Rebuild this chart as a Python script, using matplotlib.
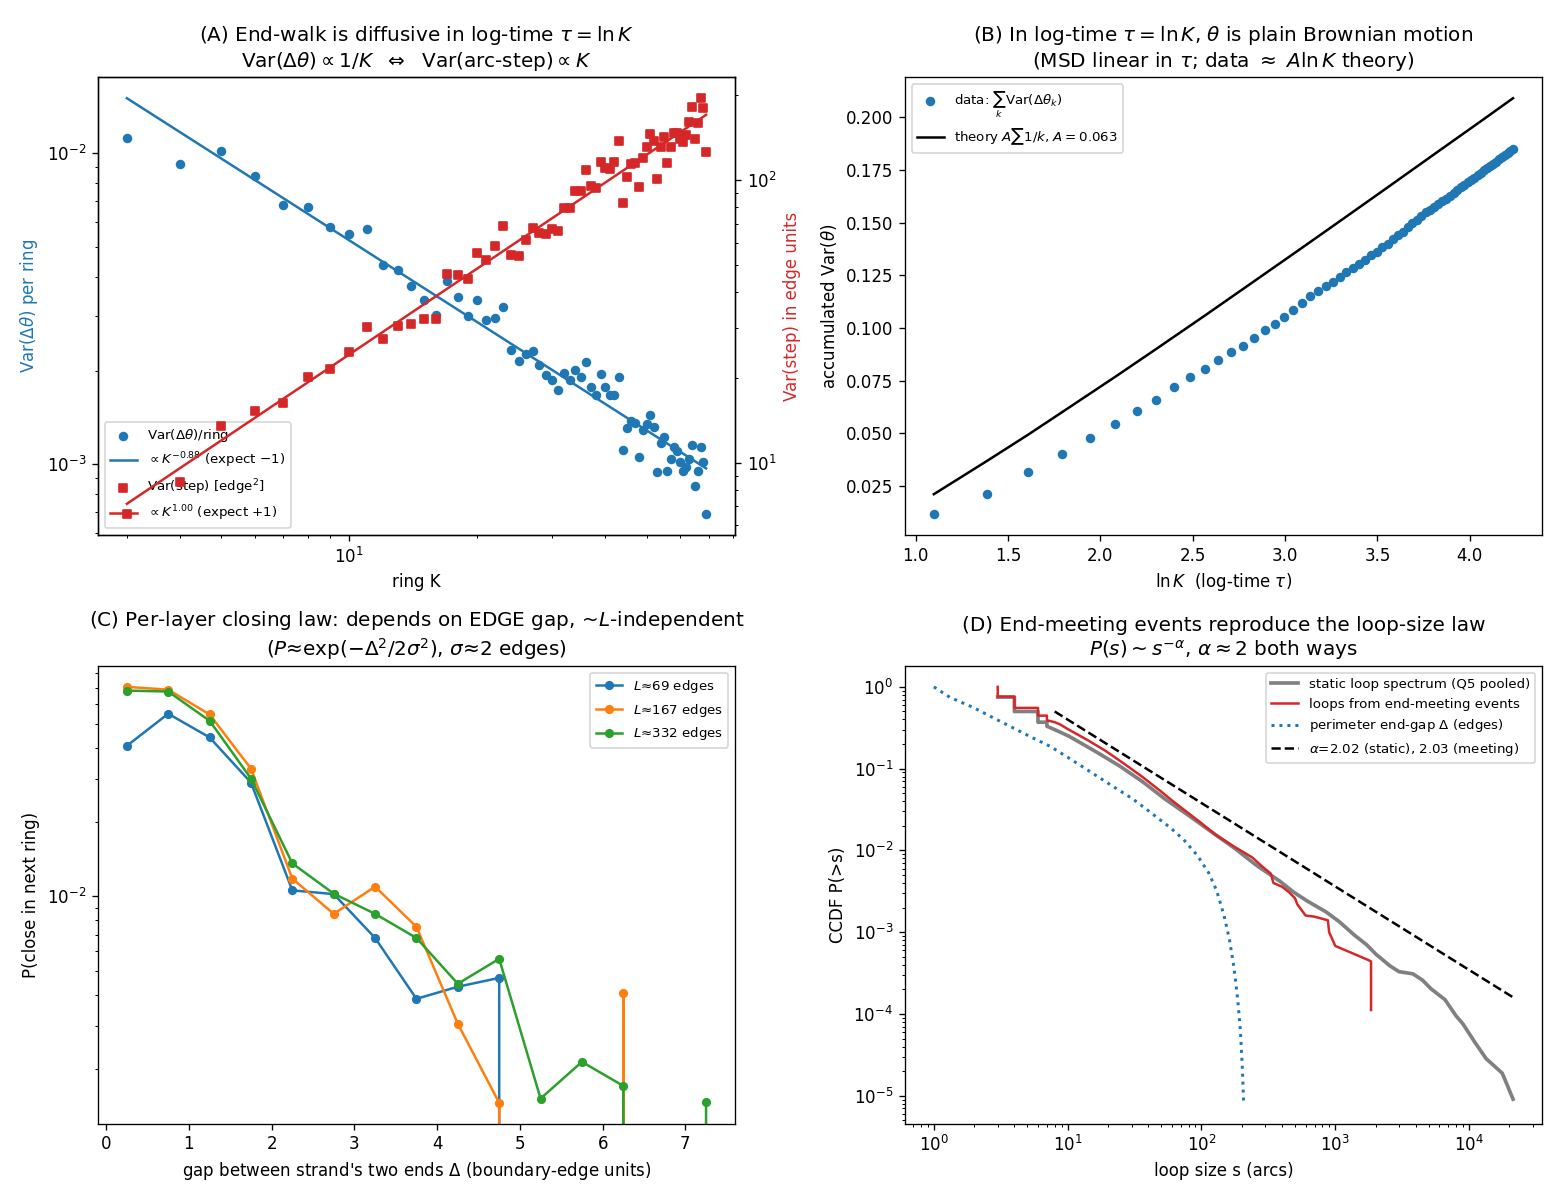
import numpy as np
import matplotlib
matplotlib.use('Agg')
import matplotlib.pyplot as plt

# ---- panel A / B : ring index K = 3..69
K_ring = np.arange(3, 70)

var_dtheta = [0.01115, 0.00919, 0.01013, 0.00841, 0.00683, 0.00673, 0.00580, 0.00551,
              0.00568, 0.00438, 0.00421, 0.00375, 0.00337, 0.00301, 0.00388, 0.00345,
              0.00299, 0.00337, 0.00290, 0.00296, 0.00320, 0.00233, 0.002144, 0.00226,
              0.00231, 0.00208, 0.001937, 0.001862, 0.001728, 0.001966, 0.001862, 0.002006,
              0.001904, 0.00213, 0.001767, 0.001674, 0.001946, 0.001767, 0.001665, 0.001674,
              0.001904, 0.001107, 0.001303, 0.001377, 0.00136, 0.001058, 0.001293, 0.001349,
              0.001436, 0.001316, 0.000942, 0.001172, 0.001219, 0.000954, 0.00104, 0.001134,
              0.001099, 0.00102, 0.000954, 0.000978, 0.00104, 0.001149, 0.000853, 0.000954,
              0.001134, 0.001015, 0.000691]

var_step = [6.57, 8.53, 13.51, 15.19, 16.26, 20.07, 21.48, 24.63, 30.23, 27.47, 30.48,
            31.06, 32.1, 32.1, 46.67, 46.03, 44.7, 55.1, 52.2, 58.4, 68.8, 54.2, 54.0,
            61.3, 67.9, 64.9, 64.4, 66.9, 66.0, 79.7, 79.7, 91.6, 91.6, 108.5, 95.4, 93.9,
            115.6, 110.6, 109.7, 116.2, 137.7, 83.1, 102.5, 113.7, 115.3, 94.7, 120.1,
            131.1, 145.4, 136.9, 101.1, 131.1, 142.2, 115.3, 130.3, 147.0, 147.0, 139.5,
            135.8, 144.6, 160.0, 180.9, 139.1, 158.6, 194.7, 179.4, 126.1]

fit_K = [3, 69]
fit_dtheta = [0.0150, 0.00097]
fit_step = [7.15, 170.0]

acc_var = [0.0115, 0.0211, 0.0315, 0.0403, 0.0475, 0.0542, 0.0605, 0.0659, 0.0721, 0.0765,
           0.0807, 0.0846, 0.0885, 0.0913, 0.0952, 0.0991, 0.1020, 0.1053, 0.1087, 0.1116,
           0.1150, 0.1173, 0.1198, 0.1217, 0.1242, 0.1266, 0.1285, 0.1303, 0.1323, 0.1344,
           0.1362, 0.1382, 0.1399, 0.1422, 0.1440, 0.1457, 0.1477, 0.1496, 0.1513, 0.1530,
           0.1550, 0.1561, 0.1575, 0.1589, 0.1603, 0.1614, 0.1627, 0.1641, 0.1656, 0.1670,
           0.1679, 0.1691, 0.1704, 0.1714, 0.1725, 0.1736, 0.1748, 0.1758, 0.1768, 0.1778,
           0.1789, 0.1801, 0.1810, 0.1819, 0.1831, 0.1842, 0.1849]

theory_K = [3, 4, 5, 6, 8, 10, 13, 17, 22, 28, 36, 46, 58, 69]
theory_val = [0.0210, 0.0368, 0.0493, 0.0599, 0.0767, 0.0900, 0.1058, 0.1222, 0.1380,
              0.1529, 0.1685, 0.1838, 0.1982, 0.2091]

# ---- panel C : closing probability vs end gap
gap = [0.25, 0.75, 1.25, 1.75, 2.25, 2.75, 3.25, 3.75, 4.25, 4.75, 5.25, 5.75, 6.25, 6.75, 7.25]
p_L69 = [0.0407, 0.0549, 0.0440, 0.0289, 0.01058, 0.01022, 0.00679, 0.00385, 0.00431,
         0.00468, 0, 0, 0, 0, 0]
p_L167 = [0.0705, 0.0687, 0.0545, 0.0329, 0.0118, 0.0085, 0.01095, 0.00753, 0.00305,
          0.00146, 0, 0, 0.00406, 0, 0]
p_L332 = [0.0681, 0.0675, 0.0514, 0.0300, 0.0136, 0.01026, 0.0085, 0.00679, 0.00443,
          0.00559, 0.00152, 0.00214, 0.00171, 0, 0.001474]

# ---- panel D : loop-size CCDFs
static_s = [3, 4, 4, 6, 6, 7, 7, 8, 10.2, 16.4, 24.4, 36.3, 53.5, 79.4, 118, 176, 260, 386,
            487, 619, 850, 1075, 1360, 1720, 2010, 2550, 2990, 3800, 4480, 5200, 6600, 8000,
            9000, 11000, 13400, 17700, 21300]
static_P = [0.75, 0.75, 0.50, 0.50, 0.37, 0.37, 0.33, 0.30, 0.25, 0.16, 0.108, 0.0693,
            0.0424, 0.0271, 0.0170, 0.0107, 0.0065, 0.0042, 0.0031, 0.0024, 0.00178, 0.00134,
            0.00095, 0.00070, 0.00054, 0.00039, 0.00033, 0.00031, 0.00026, 0.000203,
            0.000150, 0.0000946, 0.0000756, 0.0000456, 0.0000285, 0.0000189, 0.0000091]

meet_s = [3, 3, 4, 4, 6, 6, 7, 7, 8, 8.7, 10.2, 14, 19.2, 26.4, 36.3, 49.6, 60, 80, 100, 128,
          176, 240, 280, 330, 345, 400, 450, 500, 520, 600, 700, 880, 900, 1000, 1750, 1850, 1850]
meet_P = [1.0, 0.76, 0.76, 0.553, 0.553, 0.445, 0.445, 0.39, 0.37, 0.35, 0.30, 0.225, 0.165,
          0.115, 0.079, 0.053, 0.041, 0.0285, 0.0215, 0.0155, 0.0111, 0.0082, 0.0065, 0.0052,
          0.0040, 0.0036, 0.0031, 0.0026, 0.0022, 0.0016, 0.00155, 0.00140, 0.00100, 0.00068,
          0.00046, 0.00044, 0.000112]

perim_s = [1, 1.32, 1.95, 3.4, 5.45, 7.47, 12.0, 19.2, 30.9, 42.4, 58.0, 73.5, 93.1, 113.4,
           129.7, 147.2, 161.9, 175, 186.6, 195.5, 201.8, 206.6]
perim_P = [1.0, 0.743, 0.564, 0.354, 0.239, 0.186, 0.114, 0.0694, 0.0423, 0.0285, 0.0192,
           0.0136, 0.0087, 0.0053, 0.00324, 0.00162, 0.00081, 0.00037, 0.000151, 6.2e-5,
           2.3e-5, 8.2e-6]

guide_s = [8, 21300]
guide_P = [0.50, 1.6e-4]

fig, axes = plt.subplots(2, 2, figsize=(13, 10), dpi=120)

# (A)
ax = axes[0, 0]
h1 = ax.scatter(K_ring, var_dtheta, s=22, color='tab:blue', label=r'Var($\Delta\theta$)/ring')
h2, = ax.plot(fit_K, fit_dtheta, color='tab:blue', label=r'$\propto K^{-0.88}$ (expect $-1$)')
ax.set_xscale('log')
ax.set_yscale('log')
ax.set_xlabel('ring K')
ax.set_ylabel(r'Var($\Delta\theta$) per ring', color='tab:blue')
ax2 = ax.twinx()
h3 = ax2.scatter(K_ring, var_step, s=22, marker='s', color='tab:red', label=r'Var(step) [edge$^2$]')
h4, = ax2.plot(fit_K, fit_step, color='tab:red', label=r'$\propto K^{1.00}$ (expect $+1$)')
ax2.set_yscale('log')
ax2.set_ylabel('Var(step) in edge units', color='tab:red')
hs = [h1, h2, h3, h4]
ax.legend(hs, [h.get_label() for h in hs], loc='lower left', fontsize=8)
ax.set_title('(A) End-walk is diffusive in log-time $\\tau=\\ln K$\n'
             'Var($\\Delta\\theta$)$\\propto 1/K$  $\\Leftrightarrow$  Var(arc-step)$\\propto K$')

# (B)
ax = axes[0, 1]
ax.scatter(np.log(K_ring), acc_var, s=22, color='tab:blue',
           label=r'data: $\sum_k$Var($\Delta\theta_k$)')
ax.plot(np.log(theory_K), theory_val, color='k', lw=1.5,
        label=r'theory $A\sum 1/k$, $A=0.063$')
ax.set_xlabel(r'$\ln K$  (log-time $\tau$)')
ax.set_ylabel(r'accumulated Var($\theta$)')
ax.legend(loc='upper left', fontsize=8)
ax.set_title('(B) In log-time $\\tau=\\ln K$, $\\theta$ is plain Brownian motion\n'
             '(MSD linear in $\\tau$; data $\\approx$ $A\\ln K$ theory)')

# (C)
ax = axes[1, 0]
ax.plot(gap, p_L69, 'o-', ms=4.5, label=r'$L$≈69 edges')
ax.plot(gap, p_L167, 'o-', ms=4.5, label=r'$L$≈167 edges')
ax.plot(gap, p_L332, 'o-', ms=4.5, label=r'$L$≈332 edges')
ax.set_yscale('log')
ax.set_xlabel("gap between strand's two ends $\\Delta$ (boundary-edge units)")
ax.set_ylabel('P(close in next ring)')
ax.legend(loc='upper right', fontsize=8)
ax.set_title('(C) Per-layer closing law: depends on EDGE gap, ~$L$-independent\n'
             '($P$≈exp($-\\Delta^2/2\\sigma^2$), $\\sigma$≈2 edges)')

# (D)
ax = axes[1, 1]
ax.plot(static_s, static_P, color='gray', lw=2.2, label='static loop spectrum (Q5 pooled)')
ax.plot(meet_s, meet_P, color='tab:red', lw=1.5, label='loops from end-meeting events')
ax.plot(perim_s, perim_P, ':', color='tab:blue', lw=1.8, label=r'perimeter end-gap $\Delta$ (edges)')
ax.plot(guide_s, guide_P, '--', color='k', lw=1.5, label=r'$\alpha$=2.02 (static), 2.03 (meeting)')
ax.set_xscale('log')
ax.set_yscale('log')
ax.set_xlabel('loop size s (arcs)')
ax.set_ylabel('CCDF P(>s)')
ax.legend(loc='upper right', fontsize=8)
ax.set_title('(D) End-meeting events reproduce the loop-size law\n'
             '$P(s)\\sim s^{-\\alpha}$, $\\alpha\\approx 2$ both ways')

fig.tight_layout(rect=(0, 0, 1, 0.995))
fig.savefig('out.png', dpi=120)
